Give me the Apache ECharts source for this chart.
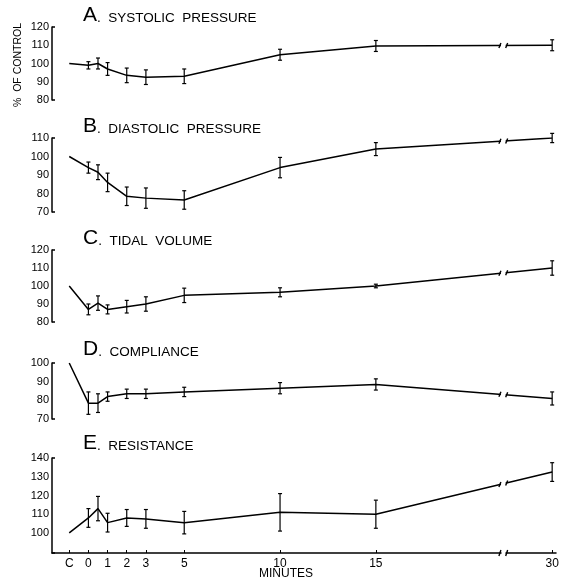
<!DOCTYPE html>
<html>
<head>
<meta charset="utf-8">
<script src="https://cdn.jsdelivr.net/npm/echarts@6/dist/echarts.min.js"></script>
<style>
  html, body { margin: 0; padding: 0; background: #fff; }
  #main { width: 568px; height: 581px; }
</style>
</head>
<body>
<div id="main"></div>
<script>
// minutes (C = control, plotted at -1)
var minutes = [-1, 0, 0.5, 1, 2, 3, 5, 10, 15, 30];
var xTickValues = [-1, 0, 1, 2, 3, 5, 10, 15, 30];
var breakStart = 21.5, breakEnd = 27.6;

// % of control, mean and +/- error per panel (control point has no bar)
var systolic      = [100, 99, 100, 97, 93.5, 92.5, 93, 104.8, 109.6, 110];
var systolicErr   = [0, 2, 3, 3.5, 4, 4, 4, 3, 3, 3];
var diastolic     = [100, 94, 91.5, 86, 78.5, 77.5, 76.5, 94, 104, 110];
var diastolicErr  = [0, 3, 4, 5, 5, 5.5, 5, 5.5, 3.5, 2.5];
var tidal         = [100, 87, 90.5, 87, 88.5, 90, 94.8, 96.5, 100, 110];
var tidalErr      = [0, 3, 4, 2.5, 3.5, 4, 4, 2.5, 1, 4];
var compliance    = [100, 78.5, 78.5, 82, 83.5, 83.5, 84.5, 86.5, 88.5, 81];
var complianceErr = [0, 6, 5, 2.5, 2.5, 2.5, 2.5, 3, 3, 3.5];
var resistance    = [100, 108, 113, 105.5, 108, 107.5, 105.5, 111, 110, 132.5];
var resistanceErr = [0, 5, 6.5, 5, 4.5, 5, 6, 10, 7.5, 5];

var panels = [
    { letter: 'A', title: 'SYSTOLIC  PRESSURE', data: systolic, err: systolicErr, min: 80, max: 120, ticks: [80, 90, 100, 110, 120], top: 27, bottom: 100, titleY: 17 },
    { letter: 'B', title: 'DIASTOLIC  PRESSURE', data: diastolic, err: diastolicErr, min: 70, max: 110, ticks: [70, 80, 90, 100, 110], top: 138, bottom: 212, titleY: 128 },
    { letter: 'C', title: 'TIDAL  VOLUME', data: tidal, err: tidalErr, min: 80, max: 120, ticks: [80, 90, 100, 110, 120], top: 250, bottom: 322, titleY: 240 },
    { letter: 'D', title: 'COMPLIANCE', data: compliance, err: complianceErr, min: 70, max: 100, ticks: [70, 80, 90, 100], top: 363, bottom: 419, titleY: 351 },
    { letter: 'E', title: 'RESISTANCE', data: resistance, err: resistanceErr, min: 89.3, max: 140, ticks: [100, 110, 120, 130, 140], top: 458, bottom: 553, titleY: 445 }
];

var FONT = 'Liberation Sans';
var chart = echarts.init(document.getElementById('main'));

var grids = [], xAxes = [], yAxes = [], series = [], graphics = [];

// "//" marks where the 15 -> 30 segment crosses the axis break
function breakMarks(withAxis) {
    return function (params, api) {
        var a = api.coord([api.value(0), api.value(1)]);
        var b = api.coord([api.value(2), api.value(3)]);
        var bx1 = api.coord([breakStart, api.value(1)])[0];
        var bx2 = api.coord([breakEnd, api.value(1)])[0];
        var yAt = function (x) { return a[1] + (b[1] - a[1]) * (x - a[0]) / (b[0] - a[0]); };
        var st = { stroke: '#000', lineWidth: 1.4 };
        var kids = [
            { type: 'line', shape: { x1: bx1 + 0.5, y1: yAt(bx1), x2: bx2 - 0.5, y2: yAt(bx2) }, style: { stroke: '#fff', lineWidth: 4 } },
            { type: 'line', shape: { x1: bx1 - 1.5, y1: yAt(bx1) + 2.5, x2: bx1 + 0.5, y2: yAt(bx1) - 2.5 }, style: st },
            { type: 'line', shape: { x1: bx2 - 0.5, y1: yAt(bx2) + 2.5, x2: bx2 + 1.5, y2: yAt(bx2) - 2.5 }, style: st }
        ];
        if (withAxis) {
            var cs = params.coordSys;
            var ay = cs.y + cs.height;
            kids.push({ type: 'line', shape: { x1: bx1 - 1.5, y1: ay + 3, x2: bx1 + 0.5, y2: ay - 3 }, style: st });
            kids.push({ type: 'line', shape: { x1: bx2 - 0.5, y1: ay + 3, x2: bx2 + 1.5, y2: ay - 3 }, style: st });
        }
        return { type: 'group', children: kids };
    };
}

panels.forEach(function (p, i) {
    var last = i === panels.length - 1;
    grids.push({ left: 52, width: 504, top: p.top, height: p.bottom - p.top });
    xAxes.push({
        gridIndex: i,
        type: 'value',
        min: -1.9,
        max: 30.2,
        breaks: [{ start: breakStart, end: breakEnd, gap: 0.3 }],
        breakArea: { show: false },
        show: last,
        splitLine: { show: false },
        axisLine: { show: last, lineStyle: { color: '#000', width: 1.5 } },
        axisTick: { show: last, inside: true, length: 3, customValues: xTickValues, lineStyle: { color: '#000' } },
        axisLabel: {
            show: last,
            customValues: xTickValues,
            margin: 5,
            color: '#000',
            fontFamily: FONT,
            fontSize: 12,
            formatter: function (v) { return v === -1 ? 'C' : String(v); }
        }
    });
    yAxes.push({
        gridIndex: i,
        type: 'value',
        min: p.min,
        max: p.max,
        splitLine: { show: false },
        axisLine: { show: true, onZero: false, lineStyle: { color: '#000', width: 1.5 } },
        axisTick: { show: true, inside: true, length: 3, customValues: [p.min, p.max], lineStyle: { color: '#000', width: 1.5 } },
        axisLabel: { customValues: p.ticks, margin: 3, color: '#000', fontFamily: FONT, fontSize: 11 }
    });
    var pts = minutes.map(function (m, k) { return [m, p.data[k]]; });
    series.push({
        type: 'line',
        xAxisIndex: i,
        yAxisIndex: i,
        data: pts,
        showSymbol: false,
        lineStyle: { color: '#000', width: 1.5 },
        z: 2
    });
    // error bars
    series.push({
        type: 'custom',
        xAxisIndex: i,
        yAxisIndex: i,
        data: minutes.map(function (m, k) { return [m, p.data[k] - p.err[k], p.data[k] + p.err[k]]; }).filter(function (d) { return d[2] > d[1]; }),
        renderItem: function (params, api) {
            var lo = api.coord([api.value(0), api.value(1)]);
            var hi = api.coord([api.value(0), api.value(2)]);
            var cap = 2;
            var st = { stroke: '#000', lineWidth: 1.2 };
            return {
                type: 'group',
                children: [
                    { type: 'line', shape: { x1: lo[0], y1: lo[1], x2: hi[0], y2: hi[1] }, style: st },
                    { type: 'line', shape: { x1: lo[0] - cap, y1: lo[1], x2: lo[0] + cap, y2: lo[1] }, style: st },
                    { type: 'line', shape: { x1: hi[0] - cap, y1: hi[1], x2: hi[0] + cap, y2: hi[1] }, style: st }
                ]
            };
        },
        z: 3
    });
    var n = minutes.length;
    series.push({
        type: 'custom',
        xAxisIndex: i,
        yAxisIndex: i,
        clip: false,
        data: [[minutes[n - 2], p.data[n - 2], minutes[n - 1], p.data[n - 1]]],
        renderItem: breakMarks(last),
        z: 4
    });
    graphics.push({
        type: 'text',
        left: 83,
        top: p.titleY - 12,
        style: {
            text: '{big|' + p.letter + '}{sm|.  ' + p.title + '}',
            rich: {
                big: { fontFamily: FONT, fontSize: 21, fill: '#000' },
                sm: { fontFamily: FONT, fontSize: 13.5, fill: '#000', padding: [5, 0, 0, 0] }
            }
        }
    });
});

graphics.push({
    type: 'text',
    x: 18,
    y: 65,
    rotation: Math.PI / 2,
    style: { text: '%  OF CONTROL', fontFamily: FONT, fontSize: 10.5, fill: '#000', align: 'center', verticalAlign: 'middle' }
});
graphics.push({
    type: 'text',
    x: 286,
    y: 574,
    style: { text: 'MINUTES', fontFamily: FONT, fontSize: 12, fill: '#000', align: 'center', verticalAlign: 'middle' }
});

var option = {
    animation: false,
    backgroundColor: '#fff',
    grid: grids,
    xAxis: xAxes,
    yAxis: yAxes,
    series: series,
    graphic: graphics
};
chart.setOption(option);
</script>
</body>
</html>
